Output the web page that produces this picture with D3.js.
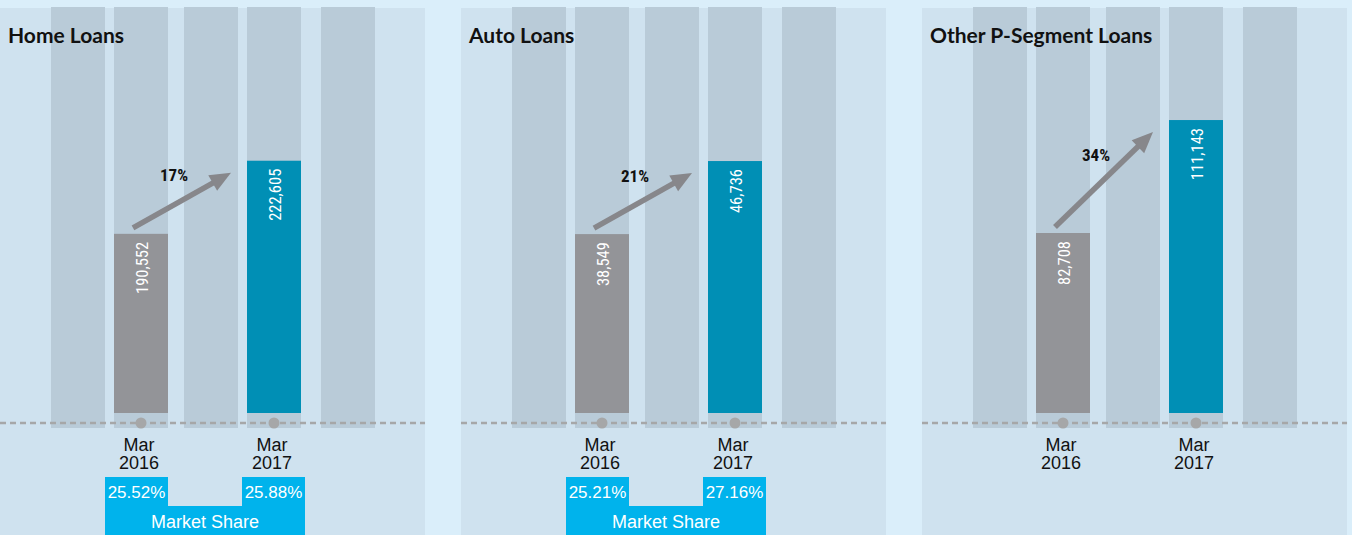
<!DOCTYPE html>
<html>
<head>
<meta charset="utf-8">
<script src="https://cdn.jsdelivr.net/npm/d3@7"></script>
<style>
  html, body { margin: 0; padding: 0; background: #daeefa; }
  svg { display: block; }
</style>
</head>
<body>
<svg id="chart" width="1352" height="535"></svg>
<script>
// data
const panels = ["Home Loans", "Auto Loans", "Other P-Segment Loans"];
const periods = ["Mar 2016", "Mar 2017"];
const balances2016 = [190552, 38549, 82708];
const balances2017 = [222605, 46736, 111143];
const share2016 = ["25.52%", "25.21%", null];
const share2017 = ["25.88%", "27.16%", null];
// each panel is drawn on its own truncated scale
const scaleFloor = [112000, 18500, 37400];
const scaleCeil = [290000, 64000, 139600];

const W = 1352, H = 535;
const colors = {
    panel: '#cfe2ef',
    stripe: '#b9cbd8',
    old: '#939498',
    now: '#008fb5',
    arrow: '#87878b',
    share: '#00b3ec',
    rule: '#a6a7a8'
};
const narrow = '"Liberation Sans Narrow", "Arial Narrow", "Roboto Condensed", sans-serif';
const sans = '"Liberation Sans", Arial, Helvetica, sans-serif';

const svg = d3.select('#chart');

const px = d3.scaleBand()
    .domain(panels)
    .range([0, 1347])
    .paddingInner(0.078);

const x = d3.scaleBand()
    .domain(periods)
    .range([114, 301])
    .paddingInner(0.594);

const baseY = 413, topY = 7, ruleY = 423, stripeBottom = 428;
const stripeLeft = [51, 114, 184, 247, 321]; // background columns
const fmt = d3.format(',');
const pct = d3.format('.0%');

panels.forEach((name, i) => {
    const g = svg.append('g').attr('transform', `translate(${Math.round(px(name))},0)`);
    const pw = px.bandwidth();
    const y = d3.scaleLinear().domain([scaleFloor[i], scaleCeil[i]]).range([baseY, topY]);
    const vals = [balances2016[i], balances2017[i]];

    g.append('rect')
        .attr('x', 0).attr('y', 8)
        .attr('width', pw).attr('height', H - 8)
        .attr('fill', colors.panel);

    g.selectAll('.stripe')
        .data(stripeLeft)
        .enter().append('rect')
        .attr('class', 'stripe')
        .attr('x', d => d).attr('y', topY)
        .attr('width', x.bandwidth()).attr('height', stripeBottom - topY)
        .attr('fill', colors.stripe);

    g.append('text')
        .attr('x', 8).attr('y', 43)
        .attr('font-family', 'Lato, "Open Sans", sans-serif')
        .attr('font-weight', 700)
        .attr('font-size', 21)
        .attr('fill', '#111')
        .text(name);

    // bars
    g.selectAll('.bar')
        .data(vals)
        .enter().append('rect')
        .attr('class', 'bar')
        .attr('x', (d, j) => x(periods[j]))
        .attr('y', d => y(d))
        .attr('width', x.bandwidth())
        .attr('height', d => baseY - y(d))
        .attr('fill', (d, j) => j ? colors.now : colors.old);

    g.selectAll('.val')
        .data(vals)
        .enter().append('text')
        .attr('class', 'val')
        .attr('transform', (d, j) => `translate(${x(periods[j]) + x.bandwidth() / 2 + 1},${y(d) + 8}) rotate(-90)`)
        .attr('text-anchor', 'end')
        .attr('dy', '0.35em')
        .attr('font-family', narrow)
        .attr('font-size', 16.5)
        .attr('fill', '#fff')
        .text(d => fmt(d));

    // dashed baseline and markers
    g.append('line')
        .attr('x1', 0).attr('x2', pw)
        .attr('y1', ruleY).attr('y2', ruleY)
        .attr('stroke', colors.rule)
        .attr('stroke-width', 2.5)
        .attr('stroke-dasharray', '6,4');

    g.selectAll('.dot')
        .data(periods)
        .enter().append('circle')
        .attr('cx', d => x(d) + x.bandwidth() / 2)
        .attr('cy', ruleY)
        .attr('r', 5.5)
        .attr('fill', colors.rule);

    g.selectAll('.period')
        .data(periods)
        .enter().append('text')
        .attr('class', 'period')
        .attr('text-anchor', 'middle')
        .attr('font-family', sans)
        .attr('font-size', 18)
        .attr('fill', '#111')
        .each(function(d) {
            const cx = x(d) + x.bandwidth() / 2 - 2;
            d.split(' ').forEach((w, k) => {
                d3.select(this).append('tspan')
                    .attr('x', cx).attr('y', 451 + k * 18)
                    .text(w);
            });
        });

    // growth arrow
    const x0 = x(periods[0]) + x.bandwidth() / 2 - 8, y0 = y(vals[0]) - 6;
    const x1 = x(periods[1]) - 16, y1 = y(vals[1]) + 12;
    const ang = Math.atan2(y1 - y0, x1 - x0);
    const head = 21, half = 9;
    const bx = x1 - head * Math.cos(ang), by = y1 - head * Math.sin(ang);
    g.append('line')
        .attr('x1', x0).attr('y1', y0)
        .attr('x2', bx + 2 * Math.cos(ang)).attr('y2', by + 2 * Math.sin(ang))
        .attr('stroke', colors.arrow)
        .attr('stroke-width', 5.5);
    g.append('path')
        .attr('d', d3.line()([
            [x1, y1],
            [bx - half * Math.sin(ang), by + half * Math.cos(ang)],
            [bx + half * Math.sin(ang), by - half * Math.cos(ang)]
        ]) + 'Z')
        .attr('fill', colors.arrow);
    g.append('text')
        .attr('x', (x0 + x1) / 2 - 8)
        .attr('y', (y0 + y1) / 2 - 19)
        .attr('text-anchor', 'middle')
        .attr('font-family', narrow)
        .attr('font-weight', 700)
        .attr('font-size', 17)
        .attr('fill', '#111')
        .text(pct(vals[1] / vals[0] - 1));

    // market share block
    if (share2016[i]) {
        const shares = [share2016[i], share2017[i]];
        const bw = 63;
        const lefts = [x(periods[0]) - 9, x(periods[1]) + x.bandwidth() + 4 - bw];
        const shareTop = 477, rowTop = 506;
        g.selectAll('.sharebox')
            .data(shares)
            .enter().append('rect')
            .attr('x', (d, j) => lefts[j]).attr('y', shareTop)
            .attr('width', bw).attr('height', H - shareTop)
            .attr('fill', colors.share);
        g.append('rect')
            .attr('x', lefts[0]).attr('y', rowTop)
            .attr('width', lefts[1] + bw - lefts[0]).attr('height', H - rowTop)
            .attr('fill', colors.share);
        g.selectAll('.share')
            .data(shares)
            .enter().append('text')
            .attr('x', (d, j) => lefts[j] + bw / 2)
            .attr('y', 498)
            .attr('text-anchor', 'middle')
            .attr('font-family', sans)
            .attr('font-size', 17)
            .attr('fill', '#fff')
            .text(d => d);
        g.append('text')
            .attr('x', (lefts[0] + lefts[1] + bw) / 2)
            .attr('y', 528)
            .attr('text-anchor', 'middle')
            .attr('font-family', sans)
            .attr('font-size', 18)
            .attr('fill', '#fff')
            .text('Market Share');
    }
});
</script>
</body>
</html>
